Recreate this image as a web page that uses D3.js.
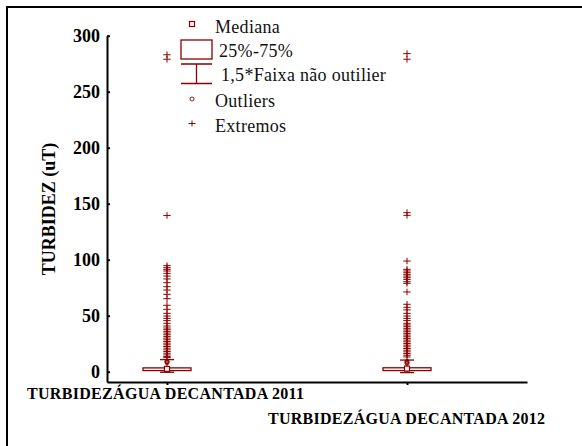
<!DOCTYPE html>
<html>
<head>
<meta charset="utf-8">
<script src="https://cdn.jsdelivr.net/npm/d3@7"></script>
<style>
  body { margin: 0; background: #fff; }
  text { font-family: "Liberation Serif", "Times New Roman", serif; }
</style>
</head>
<body>
<svg id="canvas"></svg>
<script>
// ---------------------------- dados ----------------------------
let categories = ['TURBIDEZÁGUA DECANTADA 2011', 'TURBIDEZÁGUA DECANTADA 2012']
let yTicks = [0, 50, 100, 150, 200, 250, 300]

let medians = [2.5, 2.8]
let q1 = [1.0, 1.0]
let q3 = [3.4, 3.5]
let whiskerLow = [-0.5, -0.8]
let whiskerHigh = [10.8, 10.4]

let outliers2011 = [8.0, 8.8, 9.5]
let outliers2012 = [7.4, 8.3, 9.2]

let extremes2011 = [283, 279, 139.5, 94.7, 92.9, 91.4, 89.9, 87.8, 85.4, 82.8, 79.5, 75.9, 72.9,
    69.1, 65.2, 59.3, 55.7, 52.1, 49.7, 47.6, 45.6, 43.2, 40.8, 39, 37.5, 36, 34.5, 33, 31.5,
    30, 28.5, 27, 25.5, 24, 22.5, 21, 19.5, 18, 16.5, 15, 13.5, 12.6]
let extremes2012 = [284, 279, 142, 139.6, 98.8, 91.4, 89.9, 88.4, 86.9, 85.4, 83.9, 82.4, 80.3,
    78.9, 71.2, 60.2, 57.5, 55.2, 52.1, 49.7, 47.6, 45.6, 43.2, 41.7, 40.2, 38.7, 37.2, 35.7,
    34.2, 32.7, 31.2, 29.7, 28.2, 26.7, 25.2, 23.7, 22.2, 20.7, 19.2, 17.7, 16.2, 14.7, 13.2]

let legendLabels = ['Mediana', '25%-75%', '1,5*Faixa não outilier', 'Outliers', 'Extremos']

// ---------------------------- configuração ----------------------------
let width = 582
let height = 446
let red = '#8b0000'

let outliers = [outliers2011, outliers2012]
let extremes = [extremes2011, extremes2012]

let canvas = d3.select('#canvas')
    .attr('width', width)
    .attr('height', height)

let xScale = d3.scaleLinear()
    .domain([-0.25, 1.5])
    .range([107, 527])

let yScale = d3.scaleLinear()
    .domain([-9.2, 300])
    .range([382, 35.7])

// moldura (só esquerda e topo ficam visíveis)
canvas.append('rect')
    .attr('x', 7)
    .attr('y', 7)
    .attr('width', width + 20)
    .attr('height', height + 20)
    .attr('fill', 'none')
    .attr('stroke', '#000')
    .attr('stroke-width', 2)

let drawAxes = () => {
    let yAxis = d3.axisLeft(yScale)
        .tickValues(yTicks)
        .tickSizeInner(-3)
        .tickSizeOuter(0)
        .tickPadding(7)

    let xAxis = d3.axisBottom(xScale)
        .tickValues([0, 1])
        .tickSizeInner(3)
        .tickSizeOuter(0)
        .tickFormat('')

    let gy = canvas.append('g')
        .attr('id', 'y-axis')
        .attr('transform', 'translate(' + xScale.range()[0] + ', 0)')
        .call(yAxis)

    canvas.append('g')
        .attr('id', 'x-axis')
        .attr('transform', 'translate(0, ' + yScale.range()[0] + ')')
        .call(xAxis)

    canvas.selectAll('.domain, .tick line')
        .attr('stroke', '#000')
        .attr('stroke-width', 2)

    gy.selectAll('text')
        .attr('font-size', 18)
        .attr('font-weight', 'bold')
        .attr('fill', '#000')

    // título do eixo y
    canvas.append('text')
        .attr('transform', 'translate(55, 209) rotate(-90)')
        .attr('text-anchor', 'middle')
        .attr('font-size', 18)
        .attr('font-weight', 'bold')
        .text('TURBIDEZ (uT)')

    // rótulos das categorias, escalonados
    canvas.selectAll('.cat-label')
        .data(categories)
        .enter()
        .append('text')
        .attr('class', 'cat-label')
        .attr('x', (d, i) => i === 0 ? 27 : 268)
        .attr('y', (d, i) => i === 0 ? 399 : 424)
        .attr('font-size', 16)
        .attr('font-weight', 'bold')
        .attr('textLength', 277)
        .attr('lengthAdjust', 'spacing')
        .text(d => d)
}

let drawBoxes = () => {
    let boxes = canvas.selectAll('.box')
        .data(categories)
        .enter()
        .append('g')
        .attr('class', 'box')
        .attr('stroke', red)
        .attr('fill', 'none')

    boxes.each(function (d, i) {
        let g = d3.select(this)
        let cx = xScale(i)

        // pontos extremos (+)
        extremes[i].forEach(v => {
            let y = yScale(v)
            g.append('path')
                .attr('d', 'M' + (cx - 3.7) + ',' + y + 'H' + (cx + 3.7) + 'M' + cx + ',' + (y - 3.3) + 'V' + (y + 3.3))
                .attr('stroke-width', 1)
        })

        // bigodes
        g.append('line')
            .attr('x1', cx).attr('x2', cx)
            .attr('y1', yScale(whiskerLow[i])).attr('y2', yScale(whiskerHigh[i]))
            .attr('stroke-width', 1)
        ;[whiskerLow[i], whiskerHigh[i]].forEach(v => {
            g.append('line')
                .attr('x1', cx - 7).attr('x2', cx + 7)
                .attr('y1', yScale(v)).attr('y2', yScale(v))
                .attr('stroke-width', 1.3)
        })

        // outliers (o)
        g.selectAll('.outlier')
            .data(outliers[i])
            .enter()
            .append('circle')
            .attr('class', 'outlier')
            .attr('cx', cx)
            .attr('cy', v => yScale(v))
            .attr('r', 2)
            .attr('stroke-width', 0.9)

        // caixa 25%-75%
        g.append('rect')
            .attr('x', cx - 24)
            .attr('width', 48)
            .attr('y', yScale(q3[i]))
            .attr('height', yScale(q1[i]) - yScale(q3[i]))
            .attr('fill', '#fff')
            .attr('stroke-width', 1.3)

        // mediana
        g.append('rect')
            .attr('x', cx - 2.5)
            .attr('y', yScale(medians[i]) - 2.5)
            .attr('width', 5)
            .attr('height', 5)
            .attr('fill', '#fff')
            .attr('stroke-width', 1.2)
    })
}

let drawLegend = () => {
    let lg = canvas.append('g').attr('id', 'legend')
    let sx = 192

    lg.append('rect')
        .attr('x', sx - 2.5).attr('y', 21.5)
        .attr('width', 5).attr('height', 5)
        .attr('fill', 'none').attr('stroke', red).attr('stroke-width', 1.2)

    lg.append('rect')
        .attr('x', 181).attr('y', 40)
        .attr('width', 31).attr('height', 19)
        .attr('fill', 'none').attr('stroke', red).attr('stroke-width', 1.3)

    lg.append('path')
        .attr('d', 'M181,64H212M196.5,64V83.5M181,83.5H212')
        .attr('fill', 'none').attr('stroke', red).attr('stroke-width', 1.3)

    lg.append('circle')
        .attr('cx', sx).attr('cy', 99).attr('r', 2)
        .attr('fill', 'none').attr('stroke', red).attr('stroke-width', 0.9)

    lg.append('path')
        .attr('d', 'M' + (sx - 3.5) + ',123.5H' + (sx + 3.5) + 'M' + sx + ',120.5V126.5')
        .attr('stroke', red).attr('stroke-width', 1)

    let textX = [215, 219, 221, 215, 215]
    let textY = [32.5, 56.5, 81, 106.5, 131.5]
    lg.selectAll('.leg-text')
        .data(legendLabels)
        .enter()
        .append('text')
        .attr('class', 'leg-text')
        .attr('x', (d, i) => textX[i])
        .attr('y', (d, i) => textY[i])
        .attr('font-size', 18)
        .attr('letter-spacing', 0.3)
        .attr('fill', '#111')
        .text(d => d)
}

drawAxes()
drawBoxes()
drawLegend()
</script>
</body>
</html>
